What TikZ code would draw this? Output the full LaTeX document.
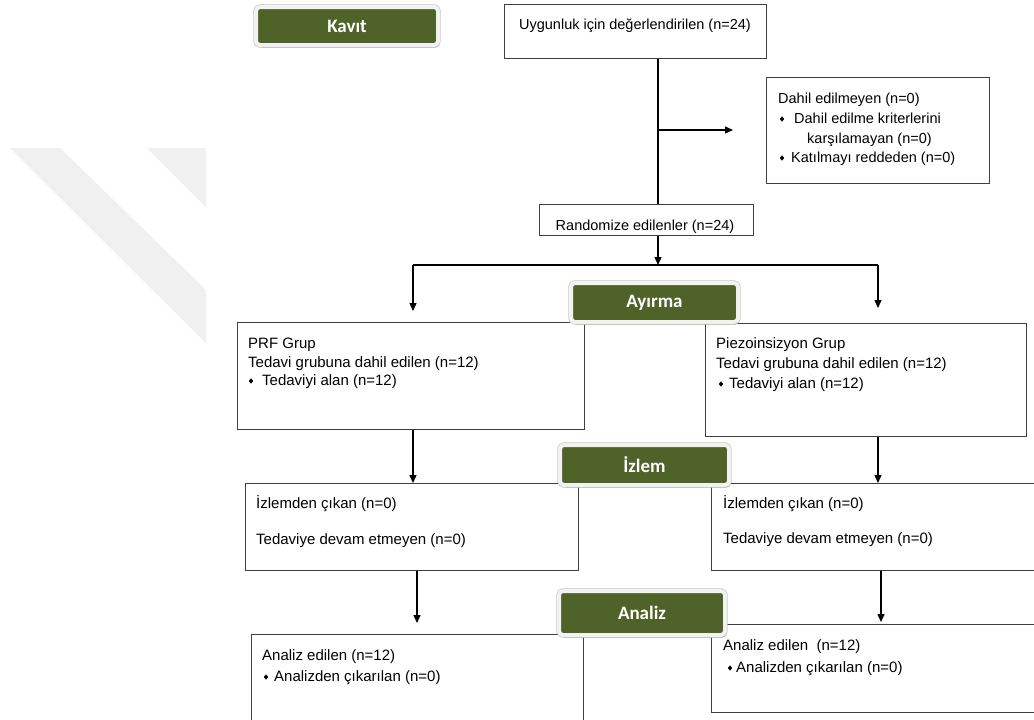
\documentclass[tikz,border=0pt]{standalone}
\usepackage{fontspec}
\setmainfont{Liberation Sans}
\newfontfamily\calfont{Carlito}
\usetikzlibrary{arrows.meta,calc,shadows,shapes.geometric}
\definecolor{olivegreen}{HTML}{4F6228}
\definecolor{boxline}{HTML}{404040}
\definecolor{framec}{HTML}{F2F2F2}
\definecolor{wmark}{HTML}{F0F0F0}
\tikzset{
  box/.style={draw=boxline, line width=1.2pt, fill=white, inner sep=0pt, anchor=north west},
  txt/.style={anchor=base west, inner sep=0pt, font=\fontsize{14.5}{19}\selectfont},
  ltxt/.style={anchor=base west, inner sep=0pt, font=\fontsize{15}{19}\selectfont},
  ctxt/.style={anchor=base, inner sep=0pt, font=\fontsize{14.5}{19}\selectfont},
  bul/.style={diamond, fill=black, inner sep=0pt, minimum width=4.5pt, minimum height=5.5pt},
  ln/.style={line width=1.4pt, black},
  arr/.style={ln, -{Triangle[length=8pt,width=7pt]}},
  phase/.style={fill=olivegreen, draw=framec, line width=4pt, rounded corners=4pt,
    text=white, font=\calfont\bfseries\fontsize{19}{19}\selectfont, inner sep=0pt,
    preaction={draw=gray!45, line width=5.4pt},
    drop shadow={shadow xshift=1.5pt, shadow yshift=-2.5pt, fill=gray!75, opacity=0.7}},
}
\begin{document}
\begin{tikzpicture}[x=1pt,y=-1pt]
\path[use as bounding box, clip] (0,0) rectangle (1034,720);
\fill[white] (0,0) rectangle (1034,720);
% watermark
\fill[wmark] (10,148) -- (60,148) -- (206,290) -- (206,343) -- cycle;
\fill[wmark] (147,148) -- (206,148) -- (206,207) -- cycle;

% boxes
\node[box, minimum width=262pt, minimum height=54pt] (uyg) at (504,4) {};
\node[box, minimum width=223pt, minimum height=106pt] (dahil) at (766,77) {};
\node[box, minimum width=214pt, minimum height=31pt] (rand) at (539,204) {};
\node[box, minimum width=347pt, minimum height=107pt] (prf) at (237,322) {};
\node[box, minimum width=321pt, minimum height=113pt] (piezo) at (705,323) {};
\node[box, minimum width=333pt, minimum height=87pt] (izL) at (245,483) {};
\node[box, minimum width=340pt, minimum height=87pt] (izR) at (711,483) {};
\node[box, minimum width=332pt, minimum height=100pt] (anL) at (251,634) {};
\node[box, minimum width=340pt, minimum height=88pt] (anR) at (711,624) {};

% texts
\node[ctxt] (t1) at (635,30) {Uygunluk için değerlendirilen (n=24)};
\node[ctxt] (t2) at (645,230) {Randomize edilenler (n=24)};
\node[txt] (d1) at (778,103) {Dahil edilmeyen (n=0)};
\node[bul] (db1) at (782,119) {};
\node[txt] (d2) at (794,123) {Dahil edilme kriterlerini};
\node[txt] (d3) at (807,143) {karşılamayan (n=0)};
\node[bul] (db2) at (782,158) {};
\node[txt] (d4) at (791,162) {Katılmayı reddeden (n=0)};

\node[ltxt] (p1) at (248,348) {PRF Grup};
\node[ltxt] (p2) at (248,367) {Tedavi grubuna dahil edilen (n=12)};
\node[bul] (pb) at (251,381) {};
\node[ltxt] (p3) at (262,385) {Tedaviyi alan (n=12)};

\node[ltxt] (q1) at (716,348) {Piezoinsizyon Grup};
\node[ltxt] (q2) at (716,368) {Tedavi grubuna dahil edilen (n=12)};
\node[bul] (qb) at (721,384) {};
\node[ltxt] (q3) at (729,388) {Tedaviyi alan (n=12)};

\node[ltxt] (i1) at (256,508) {İzlemden çıkan (n=0)};
\node[ltxt] (i2) at (256,544) {Tedaviye devam etmeyen (n=0)};
\node[ltxt] (j1) at (723,508) {İzlemden çıkan (n=0)};
\node[ltxt] (j2) at (723,543) {Tedaviye devam etmeyen (n=0)};

\node[ltxt] (a1) at (262,660) {Analiz edilen (n=12)};
\node[bul] (ab) at (266,677) {};
\node[ltxt] (a2) at (274,681) {Analizden çıkarılan (n=0)};
\node[ltxt] (b1) at (723,650) {Analiz edilen\ \ (n=12)};
\node[bul] (bb) at (730,668) {};
\node[ltxt] (b2) at (736,672) {Analizden çıkarılan (n=0)};

% connectors
\coordinate (trunk) at (658,0);
\coordinate (exc) at (733,130);
\coordinate (sL) at (413,265);
\coordinate (sR) at (878,265);
\coordinate (xL) at (417,0);
\coordinate (xR) at (881,0);
\draw[ln] (uyg.south -| trunk) -- (rand.north -| trunk);
\draw[arr] (exc -| trunk) -- (exc);
\draw[arr] (rand.south -| trunk) -- (sL -| trunk);
\draw[ln] (sL) -- (sR);
\draw[arr, shorten >=11pt] (sL) -- (prf.north -| sL);
\draw[arr, shorten >=15pt] (sR) -- (piezo.north -| sR);
\draw[arr] (prf.south -| sL) -- (izL.north -| sL);
\draw[arr] (piezo.south -| sR) -- (izR.north -| sR);
\draw[arr, shorten >=11pt] (izL.south -| xL) -- (anL.north -| xL);
\draw[arr, shorten >=2pt] (izR.south -| xR) -- (anR.north -| xR);

% phase labels
\node[phase, minimum width=182pt, minimum height=38pt] (kav) at (347,26) {Kavıt};
\node[phase, minimum width=167pt, minimum height=39pt] (ayr) at (654.5,302.5) {Ayırma};
\node[phase, minimum width=169pt, minimum height=40pt] (izl) at (644.5,465) {İzlem};
\node[phase, minimum width=166pt, minimum height=44pt] (ana) at (642,613) {Analiz};
\end{tikzpicture}
\end{document}
